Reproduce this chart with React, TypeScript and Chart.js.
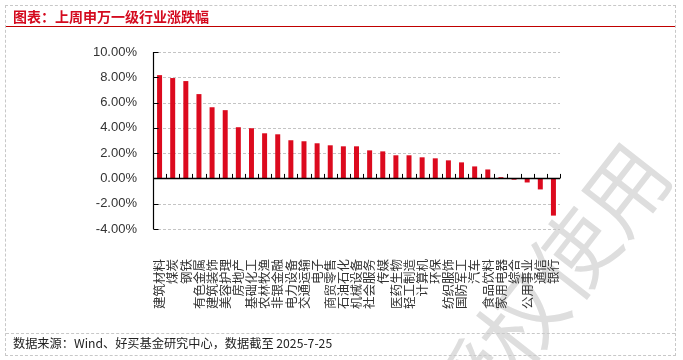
import React, { useEffect, useRef } from "react";
import { Chart, registerables } from "chart.js";

Chart.register(...registerables);

const titleText = "图表：上周申万一级行业涨跌幅";
const sourceText = "数据来源：Wind、好买基金研究中心，数据截至 2025-7-25";
const watermarkText = "授权使用";

const categories = [
  "建筑材料", "煤炭", "钢铁", "有色金属", "建筑装饰", "美容护理", "房地产", "基础化工",
  "农林牧渔", "非银金融", "电力设备", "交通运输", "电子", "商贸零售", "石油石化", "机械设备",
  "社会服务", "传媒", "医药生物", "轻工制造", "计算机", "环保", "纺织服饰", "国防军工",
  "汽车", "食品饮料", "家用电器", "综合", "公用事业", "通信", "银行",
];

const changes = [
  8.17, 7.94, 7.7, 6.67, 5.63, 5.4, 4.05, 3.97,
  3.57, 3.49, 3.02, 2.94, 2.78, 2.62, 2.54, 2.54,
  2.22, 2.14, 1.83, 1.83, 1.67, 1.59, 1.43, 1.27,
  0.95, 0.71, 0.1, -0.1, -0.32, -0.87, -2.94,
];

const yMin = -4;
const yMax = 10;
const yStep = 2;
const yTickValues = [10, 8, 6, 4, 2, 0, -2, -4];

const BAR_COLOR = "#dc0a1e";
const TEXT_COLOR = "#333333";

export default function App() {
  const ref = useRef<HTMLCanvasElement | null>(null);

  useEffect(() => {
    const canvas = ref.current;
    if (!canvas) return;

    const decor = {
      id: "decor",
      beforeDraw(chart: any) {
        const ctx = chart.ctx;
        ctx.save();
        ctx.translate(625, 188);
        ctx.rotate((-52 * Math.PI) / 180);
        ctx.font = "84px 'Noto Sans CJK SC'";
        ctx.fillStyle = "#dedede";
        ctx.textAlign = "right";
        ctx.textBaseline = "middle";
        ctx.fillText(watermarkText, 42, 0);
        ctx.restore();
      },
      beforeDatasetsDraw(chart: any) {
        const ctx = chart.ctx;
        const area = chart.chartArea;
        const y = chart.scales.y;
        ctx.save();
        ctx.strokeStyle = "#c4c4c4";
        ctx.lineWidth = 1;
        ctx.setLineDash([3, 2]);
        yTickValues.forEach((v) => {
          if (v === 0) return;
          const py = Math.round(y.getPixelForValue(v)) + 0.5;
          ctx.beginPath();
          ctx.moveTo(area.left, py);
          ctx.lineTo(area.right, py);
          ctx.stroke();
        });
        ctx.restore();
      },
      afterDatasetsDraw(chart: any) {
        const ctx = chart.ctx;
        const area = chart.chartArea;
        const y = chart.scales.y;
        const n = categories.length;
        const step = (area.right - area.left) / n;
        const ax = Math.round(area.left) + 0.5;
        const zeroY = y.getPixelForValue(0);
        ctx.save();
        ctx.strokeStyle = "#000000";
        ctx.setLineDash([]);
        ctx.lineWidth = 1.2;
        ctx.beginPath();
        ctx.moveTo(ax, y.getPixelForValue(yMax));
        ctx.lineTo(ax, y.getPixelForValue(yMin));
        ctx.stroke();
        ctx.lineWidth = 1;
        yTickValues.forEach((v) => {
          const py = Math.round(y.getPixelForValue(v)) + 0.5;
          ctx.beginPath();
          ctx.moveTo(ax, py);
          ctx.lineTo(ax + 5, py);
          ctx.stroke();
        });
        ctx.lineWidth = 1.6;
        ctx.beginPath();
        ctx.moveTo(area.left, zeroY);
        ctx.lineTo(area.right, zeroY);
        ctx.stroke();
        ctx.lineWidth = 1;
        for (let i = 1; i <= n; i++) {
          const px = Math.round(area.left + i * step) + 0.5;
          ctx.beginPath();
          ctx.moveTo(px, zeroY);
          ctx.lineTo(px, zeroY - 4.5);
          ctx.stroke();
        }
        ctx.restore();
      },
    };

    const chart = new Chart(canvas, {
      type: "bar",
      data: {
        labels: categories,
        datasets: [
          {
            data: changes,
            backgroundColor: BAR_COLOR,
            borderWidth: 0,
            barPercentage: 0.38,
            categoryPercentage: 1,
          },
        ],
      },
      options: {
        responsive: false,
        animation: false,
        devicePixelRatio: 1,
        layout: { padding: { left: 0, right: 123, top: 52, bottom: 0 } },
        plugins: {
          legend: { display: false },
          tooltip: { enabled: false },
          title: { display: false },
        },
        scales: {
          x: {
            grid: { display: false },
            border: { display: false },
            ticks: {
              autoSkip: false,
              minRotation: 90,
              maxRotation: 90,
              padding: 22,
              color: TEXT_COLOR,
              font: { family: "'Noto Sans CJK SC'", size: 12.5 },
            },
            afterFit(scale: any) {
              scale.height = 131;
            },
          },
          y: {
            min: yMin,
            max: yMax,
            grid: { display: false },
            border: { display: false },
            ticks: {
              stepSize: yStep,
              padding: 8,
              color: TEXT_COLOR,
              font: { family: "'Liberation Sans', Arial, sans-serif", size: 13 },
              callback: (v: any) => Number(v).toFixed(2) + "%",
            },
            afterFit(scale: any) {
              scale.width = 153;
            },
          },
        },
      },
      plugins: [decor],
    } as any);

    return () => chart.destroy();
  }, []);

  return (
    <div
      style={{
        position: "absolute",
        left: 0,
        top: 0,
        width: 683,
        height: 360,
        background: "#ffffff",
        overflow: "hidden",
        fontFamily: "'Noto Sans CJK SC', sans-serif",
      }}
    >
      <canvas
        ref={ref}
        width={683}
        height={360}
        style={{ position: "absolute", left: 0, top: 0, width: 683, height: 360 }}
      />
      <div
        style={{
          position: "absolute",
          left: 5,
          top: 5,
          width: 669,
          height: 349,
          border: "1px dashed #c8c8c8",
          pointerEvents: "none",
        }}
      />
      <div
        style={{
          position: "absolute",
          left: 13,
          top: 6,
          fontSize: 14,
          lineHeight: "20px",
          fontWeight: 700,
          color: "#d40a1e",
          whiteSpace: "nowrap",
        }}
      >
        {titleText}
      </div>
      <div
        style={{
          position: "absolute",
          left: 6,
          top: 26,
          width: 669,
          height: 0,
          borderTop: "1.5px solid #c00000",
        }}
      />
      <div
        style={{
          position: "absolute",
          left: 6,
          top: 333,
          width: 669,
          height: 0,
          borderTop: "1px dashed #c8c8c8",
        }}
      />
      <div
        style={{
          position: "absolute",
          left: 13,
          top: 335,
          fontSize: 12.2,
          lineHeight: "16px",
          color: "#222222",
          whiteSpace: "nowrap",
        }}
      >
        {sourceText}
      </div>
    </div>
  );
}
